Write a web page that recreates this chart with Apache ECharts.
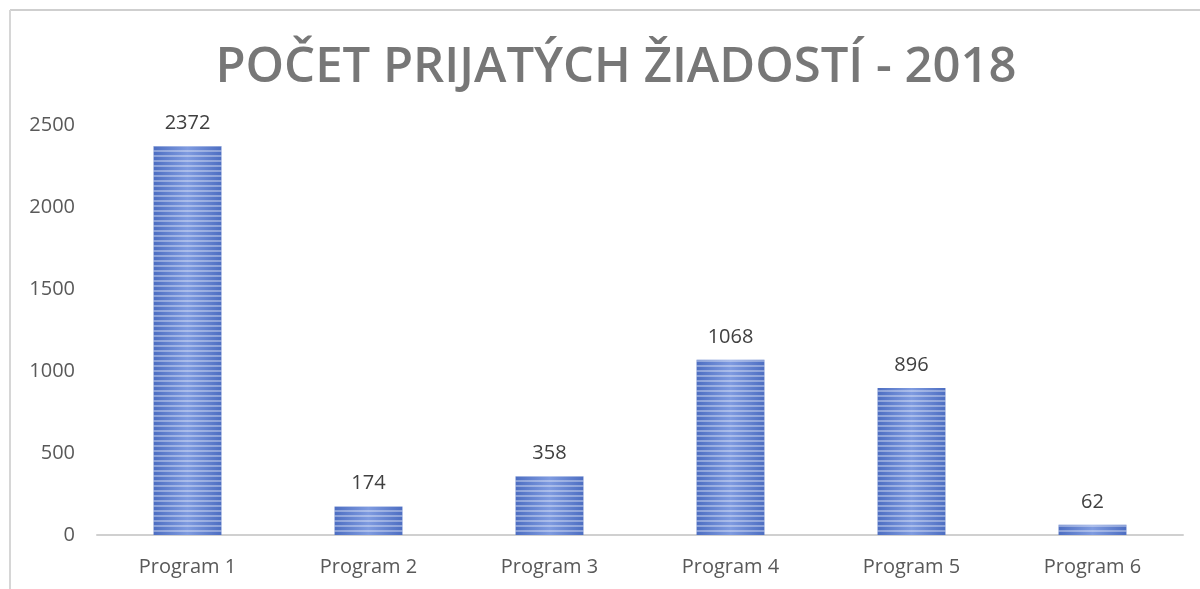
<!DOCTYPE html>
<html>
<head>
<meta charset="utf-8">
<script src="https://cdn.jsdelivr.net/npm/echarts@6/dist/echarts.min.js"></script>
<style>
  html, body { margin: 0; padding: 0; background: #fff; }
  #chart { width: 1200px; height: 589px; }
</style>
</head>
<body>
<div id="chart"></div>
<script>
// data
var categories = ['Program 1', 'Program 2', 'Program 3', 'Program 4', 'Program 5', 'Program 6'];
var values = [2372, 174, 358, 1068, 896, 62];
var yTicks = { min: 0, max: 2500, interval: 500 };
var titleText = 'POČET PRIJATÝCH ŽIADOSTÍ - 2018';

var myChart = echarts.init(document.getElementById('chart'));

var option = {
  backgroundColor: '#fff',
  aria: { enabled: true, decal: { show: true } },
  title: {
    text: titleText,
    left: 611,
    top: 39,
    textAlign: 'center',
    textStyle: {
      fontFamily: 'Open Sans',
      fontWeight: 600,
      fontSize: 49,
      color: '#777777'
    }
  },
  // frame of the original picture
  graphic: [
    { type: 'line', shape: { x1: 10, y1: 10, x2: 1200, y2: 10 }, style: { stroke: '#cfcfcf', lineWidth: 2 } },
    { type: 'line', shape: { x1: 10, y1: 10, x2: 10, y2: 589 }, style: { stroke: '#d6d6d6', lineWidth: 2 } }
  ],
  grid: { left: 97, right: 17, top: 125, bottom: 54 },
  xAxis: {
    type: 'category',
    data: categories,
    axisLine: { lineStyle: { color: '#d0d0d0', width: 2 } },
    axisTick: { show: false },
    axisLabel: { color: '#595959', fontFamily: 'Open Sans', fontSize: 20, margin: 22 }
  },
  yAxis: {
    type: 'value',
    min: yTicks.min,
    max: yTicks.max,
    interval: yTicks.interval,
    splitLine: { show: false },
    axisLine: { show: false },
    axisTick: { show: false },
    axisLabel: {
      color: '#595959', fontFamily: 'Open Sans', fontSize: 20, margin: 22,
      formatter: function (v) { return String(v); }
    }
  },
  series: [{
    type: 'bar',
    data: values,
    barWidth: '37.5%',
    itemStyle: {
      color: new echarts.graphic.LinearGradient(0, 0, 1, 0, [
        { offset: 0, color: '#4d6ec2' },
        { offset: 0.5, color: '#7f9be0' },
        { offset: 1, color: '#4d6ec2' }
      ]),
      decal: {
        symbol: 'rect',
        symbolSize: 1,
        dashArrayX: [1, 0],
        dashArrayY: [2, 3],
        rotation: 0,
        color: 'rgba(255,255,255,0.35)'
      }
    },
    label: {
      show: true,
      position: 'top',
      distance: 13,
      color: '#404040',
      fontFamily: 'Open Sans',
      fontSize: 20
    }
  }]
};

myChart.setOption(option);
</script>
</body>
</html>
